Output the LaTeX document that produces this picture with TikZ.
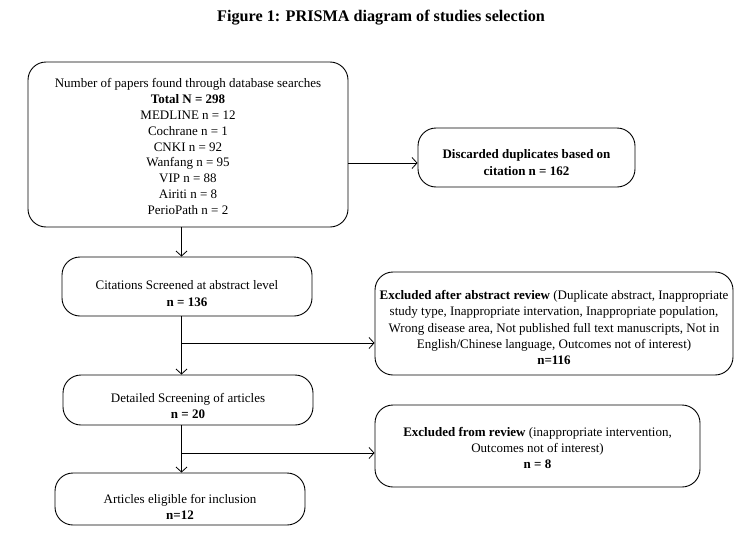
\documentclass[tikz,border=0pt]{standalone}
\usepackage{fontspec}
\setmainfont{Liberation Serif}
\usetikzlibrary{arrows.meta}
\begin{document}
\begin{tikzpicture}[x=1pt,y=-1pt,
  box/.style={draw, line width=0.9pt, rounded corners=18pt, inner sep=0pt},
  txt/.style={align=center, inner sep=0pt, font=\fontsize{13}{16.2}\selectfont},
  arr/.style={line width=0.8pt, -{Straight Barb[length=5pt,width=11pt]}}]
\useasboundingbox (0,0) rectangle (755,554);
\node[font=\bfseries\fontsize{16.2}{18}\selectfont] (title) at (381,18) {Figure 1: PRISMA diagram of studies selection};
\node[box, minimum width=320pt, minimum height=165pt] (b1) at (188,144.5) {};
\node[txt, font=\fontsize{13}{15.9}\selectfont] (t1) at ([yshift=-2pt]b1.center) {Number of papers found through database searches\\ \textbf{Total N = 298}\\ MEDLINE n = 12\\ Cochrane n = 1\\ CNKI n = 92\\ Wanfang n = 95\\ VIP n = 88\\ Airiti n = 8\\ PerioPath n = 2};
\node[box, minimum width=217pt, minimum height=59pt] (b2) at (526.5,157.5) {};
\node[txt] (t2) at ([yshift=-5pt]b2.center) {\textbf{Discarded duplicates based on}\\ \textbf{citation n = 162}};
\node[box, minimum width=250pt, minimum height=59pt] (b3) at (187,286.5) {};
\node[txt] (t3) at ([yshift=-7pt]b3.center) {Citations Screened at abstract level\\ \textbf{n = 136}};
\node[box, minimum width=358pt, minimum height=103pt] (b4) at (554,323.5) {};
\node[txt] (t4) at ([yshift=-4pt]b4.center) {\textbf{Excluded after abstract review} (Duplicate abstract, Inappropriate\\ study type, Inappropriate intervation, Inappropriate population,\\ Wrong disease area, Not published full text manuscripts, Not in\\ English/Chinese language, Outcomes not of interest)\\ \textbf{n=116}};
\node[box, minimum width=250pt, minimum height=50pt] (b5) at (188,400) {};
\node[txt] (t5) at ([yshift=-6pt]b5.center) {Detailed Screening of articles\\ \textbf{n = 20}};
\node[box, minimum width=325pt, minimum height=82pt] (b6) at (537.5,446) {};
\node[txt] (t6) at ([yshift=-2pt]b6.center) {\textbf{Excluded from review} (inappropriate intervention,\\ Outcomes not of interest)\\ \textbf{n = 8}};
\node[box, minimum width=250pt, minimum height=52pt] (b7) at (180,499) {};
\node[txt] (t7) at ([yshift=-8pt]b7.center) {Articles eligible for inclusion\\ \textbf{n=12}};
\coordinate (sp) at (181.5,0);
\coordinate (d1) at (0,163);
\coordinate (j1) at (181.5,343);
\coordinate (j2) at (182,453);
\draw[arr] (b1.east |- d1) -- (b2.west |- d1);
\draw[arr] (b1.south -| sp) -- (b3.north -| sp);
\draw[arr] (b3.south -| sp) -- (b5.north -| sp);
\draw[arr] (j1) -- (j1 -| b4.west);
\draw[arr] (b5.south -| sp) -- (b7.north -| sp);
\draw[arr] (j2) -- (j2 -| b6.west);
\end{tikzpicture}
\end{document}
